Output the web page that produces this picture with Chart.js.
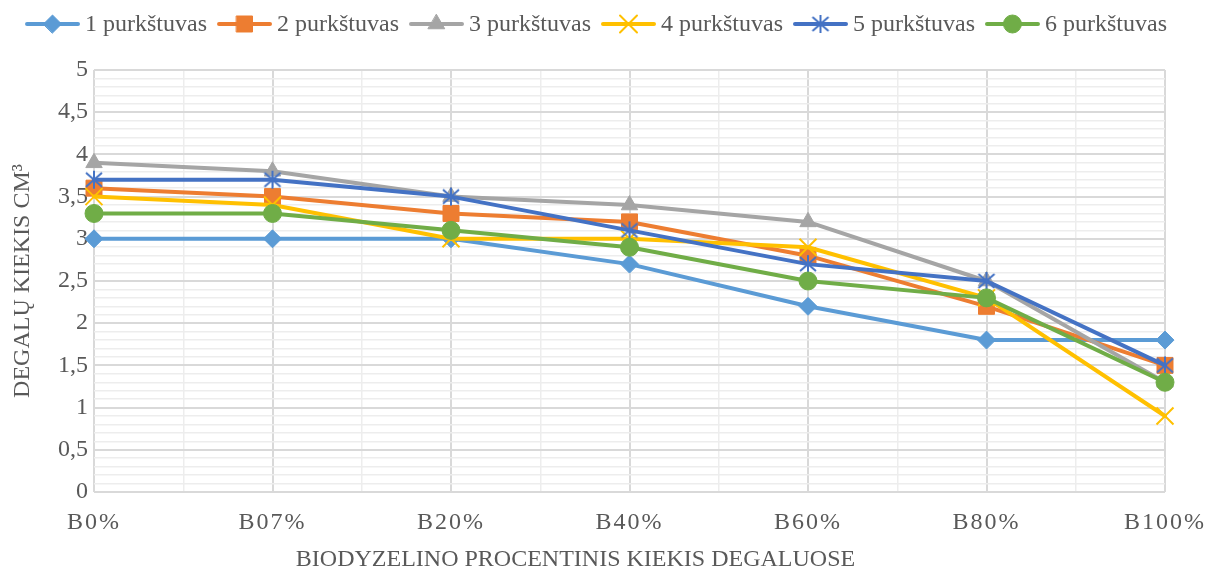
<!DOCTYPE html>
<html>
<head>
<meta charset="utf-8">
<script src="https://cdn.jsdelivr.net/npm/chart.js@4/dist/chart.umd.min.js"></script>
<style>
  html, body { margin: 0; padding: 0; background: #ffffff; }
  canvas { display: block; }
</style>
</head>
<body>
<canvas id="chart" width="1206" height="570"></canvas>
<script>
// Fuel blend categories (x axis)
const categories = ['B0%', 'B07%', 'B20%', 'B40%', 'B60%', 'B80%', 'B100%'];

// Series names
const seriesNames = ['1 purkštuvas', '2 purkštuvas', '3 purkštuvas', '4 purkštuvas', '5 purkštuvas', '6 purkštuvas'];

// Fuel quantity per injector, cm³
const injector1 = [3.0, 3.0, 3.0, 2.7, 2.2, 1.8, 1.8];
const injector2 = [3.6, 3.5, 3.3, 3.2, 2.8, 2.2, 1.5];
const injector3 = [3.9, 3.8, 3.5, 3.4, 3.2, 2.5, 1.3];
const injector4 = [3.5, 3.4, 3.0, 3.0, 2.9, 2.3, 0.9];
const injector5 = [3.7, 3.7, 3.5, 3.1, 2.7, 2.5, 1.5];
const injector6 = [3.3, 3.3, 3.1, 2.9, 2.5, 2.3, 1.3];

// Y axis tick labels (every 0.5)
const yTickLabels = ['0', '0,5', '1', '1,5', '2', '2,5', '3', '3,5', '4', '4,5', '5'];

const TEXT_COLOR = '#595959';
const FONT_FAMILY = '"Liberation Serif", "Times New Roman", serif';

// Asterisk marker: X with a vertical bar
function asteriskMarker(color) {
  const c = document.createElement('canvas');
  c.width = 24; c.height = 24;
  const g = c.getContext('2d');
  const m = 12;
  g.strokeStyle = color;
  g.lineWidth = 2;
  g.lineCap = 'butt';
  g.beginPath();
  g.moveTo(m - 8, m - 7); g.lineTo(m + 8, m + 7);
  g.moveTo(m + 8, m - 7); g.lineTo(m - 8, m + 7);
  g.moveTo(m, m - 9); g.lineTo(m, m + 9);
  g.stroke();
  return c;
}

const seriesValues = [injector1, injector2, injector3, injector4, injector5, injector6];
const seriesColors = ['#5B9BD5', '#ED7D31', '#A5A5A5', '#FFC000', '#4472C4', '#70AD47'];
const seriesMarkers = [
  { style: 'rectRot', radius: 9, border: 1 },
  { style: 'rect', radius: 11.3, border: 1 },
  { style: 'triangle', radius: 9.5, border: 1 },
  { style: 'crossRot', radius: 12, border: 2 },
  { style: asteriskMarker('#4472C4'), radius: 9, border: 0 },
  { style: 'circle', radius: 9, border: 1 }
];

const datasets = seriesValues.map((vals, i) => ({
  label: seriesNames[i],
  data: vals.map((v, k) => ({ x: k, y: v })),
  borderColor: seriesColors[i],
  backgroundColor: seriesColors[i],
  borderWidth: 4,
  borderCapStyle: 'round',
  borderJoinStyle: 'round',
  tension: 0,
  pointStyle: seriesMarkers[i].style,
  pointRadius: seriesMarkers[i].radius,
  pointHoverRadius: seriesMarkers[i].radius,
  pointBorderWidth: seriesMarkers[i].border,
  pointBackgroundColor: seriesColors[i],
  pointBorderColor: seriesColors[i],
  clip: false,
  order: seriesValues.length - 1 - i
}));

// Spaced-out category labels and a left-shifted title on the x axis
const xAxisText = {
  id: 'xAxisText',
  beforeDraw(chart) {
    const sc = chart.scales.x;
    if (sc && !sc._textPatched) {
      const ctx = chart.ctx;
      const origLabels = sc.drawLabels.bind(sc);
      sc.drawLabels = function (area) {
        ctx.save();
        ctx.letterSpacing = '2px';
        origLabels(area);
        ctx.restore();
      };
      const origTitle = sc.drawTitle.bind(sc);
      sc.drawTitle = function () {
        ctx.save();
        ctx.translate(-54, 0);
        origTitle();
        ctx.restore();
      };
      sc._textPatched = true;
    }
  }
};

// Legend with line + marker samples
const lineLegend = {
  id: 'lineLegend',
  afterDraw(chart) {
    const ctx = chart.ctx;
    const ds = chart.data.datasets;
    const lineLen = 55, gapText = 5, gapItem = 10;
    ctx.save();
    ctx.font = '24px ' + FONT_FAMILY;
    const widths = ds.map(d => ctx.measureText(d.label).width);
    const total = widths.reduce((a, w) => a + lineLen + gapText + w, 0) + gapItem * (ds.length - 1);
    let x = 596 - total / 2;
    const y = 24;
    ds.forEach((d, i) => {
      ctx.strokeStyle = d.borderColor;
      ctx.lineWidth = 4;
      ctx.lineCap = 'round';
      ctx.beginPath();
      ctx.moveTo(x + 2, y);
      ctx.lineTo(x + lineLen - 2, y);
      ctx.stroke();
      ctx.fillStyle = d.pointBackgroundColor;
      ctx.strokeStyle = d.pointBorderColor;
      ctx.lineWidth = d.pointBorderWidth;
      Chart.helpers.drawPoint(ctx, {
        pointStyle: d.pointStyle,
        radius: d.pointRadius,
        rotation: 0,
        borderWidth: d.pointBorderWidth
      }, x + lineLen / 2, y);
      ctx.fillStyle = TEXT_COLOR;
      ctx.textAlign = 'left';
      ctx.textBaseline = 'middle';
      ctx.fillText(d.label, x + lineLen + gapText, y + 1);
      x += lineLen + gapText + widths[i] + gapItem;
    });
    ctx.restore();
  }
};

const isMajorY = v => Math.round(v * 10) % 5 === 0;
const isMajorX = v => Math.abs(v - Math.round(v)) < 1e-6;

new Chart(document.getElementById('chart'), {
  type: 'line',
  data: { datasets },
  plugins: [xAxisText, lineLegend],
  options: {
    responsive: false,
    animation: false,
    devicePixelRatio: 1,
    layout: { padding: { top: 70, right: 41, bottom: 0, left: 0 } },
    font: { family: FONT_FAMILY },
    plugins: {
      legend: { display: false },
      tooltip: { enabled: false }
    },
    scales: {
      x: {
        type: 'linear',
        min: 0,
        max: categories.length - 1,
        ticks: {
          stepSize: 0.5,
          autoSkip: false,
          maxRotation: 0,
          minRotation: 0,
          padding: 16,
          color: TEXT_COLOR,
          font: { family: FONT_FAMILY, size: 24 },
          callback: v => isMajorX(v) ? categories[Math.round(v)] : ''
        },
        grid: {
          drawTicks: false,
          color: c => isMajorX(c.tick.value) ? '#D9D9D9' : '#EDEDED',
          lineWidth: c => isMajorX(c.tick.value) ? 2 : 1.5
        },
        border: { display: false },
        title: {
          display: true,
          text: 'BIODYZELINO PROCENTINIS KIEKIS DEGALUOSE',
          color: TEXT_COLOR,
          font: { family: FONT_FAMILY, size: 24, lineHeight: 1 },
          padding: { top: 0, bottom: -2 }
        },
        afterFit(scale) {
          scale.height = 78;
          scale.paddingLeft = 0;
          scale.paddingRight = 0;
        }
      },
      y: {
        min: 0,
        max: 5,
        ticks: {
          stepSize: 0.1,
          autoSkip: false,
          padding: 6,
          color: TEXT_COLOR,
          font: { family: FONT_FAMILY, size: 24 },
          callback: v => isMajorY(v) ? yTickLabels[Math.round(v * 2)] : ''
        },
        grid: {
          drawTicks: false,
          color: c => isMajorY(c.tick.value) ? '#D9D9D9' : '#EDEDED',
          lineWidth: c => isMajorY(c.tick.value) ? 2 : 1.5
        },
        border: { display: false },
        title: {
          display: true,
          text: 'DEGALŲ KIEKIS CM³',
          color: TEXT_COLOR,
          font: { family: FONT_FAMILY, size: 24 },
          padding: { top: 8, bottom: 0 }
        },
        afterFit(scale) { scale.width = 94; }
      }
    }
  }
});
</script>
</body>
</html>
